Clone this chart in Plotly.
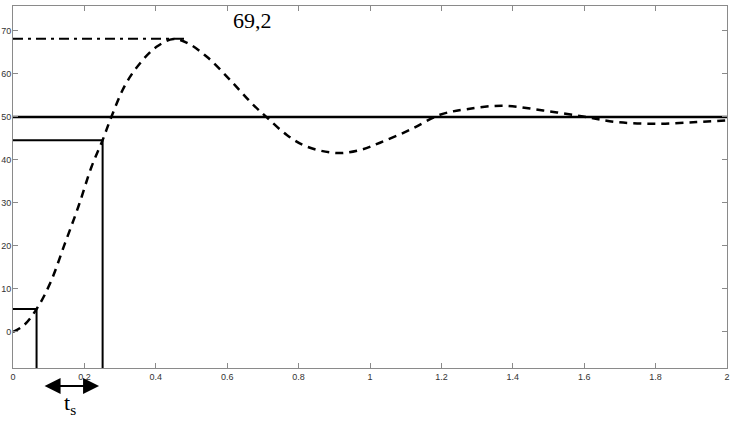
import plotly.graph_objects as go

# step response
t = [0.0, 0.03, 0.066, 0.104, 0.146, 0.183, 0.22, 0.251, 0.276, 0.314, 0.356, 0.402, 0.449,
     0.486, 0.543, 0.608, 0.673, 0.711, 0.767, 0.823, 0.907, 0.972, 1.028, 1.112,
     1.196, 1.271, 1.373, 1.485, 1.597, 1.691, 1.803, 1.915, 2.0]
y = [0.0, 1.5, 5.3, 11.3, 20.7, 29.1, 38.4, 44.6, 50.1, 57.4, 62.5, 66.3, 68.1,
     67.3, 64.0, 58.6, 52.8, 49.9, 45.8, 43.1, 41.6, 42.3, 44.0, 47.0,
     50.5, 51.8, 52.6, 51.5, 50.1, 48.8, 48.4, 48.8, 49.2]

steady = 50
peak = 68.2
peak_t = 0.49
t10, y10 = 0.066, 5.3
t90, y90 = 0.251, 44.6
ymin, ymax = -8.4, 75.8

xticks = [0, 0.2, 0.4, 0.6, 0.8, 1, 1.2, 1.4, 1.6, 1.8, 2]
yticks = [0, 10, 20, 30, 40, 50, 60, 70]

fig = go.Figure()

# 10% and 90% marks
fig.add_trace(go.Scatter(x=[0, t10, t10], y=[y10, y10, ymin], mode="lines",
                         line=dict(color="black", width=2)))
fig.add_trace(go.Scatter(x=[0, t90, t90], y=[y90, y90, ymin], mode="lines",
                         line=dict(color="black", width=2)))
# steady value
fig.add_trace(go.Scatter(x=[0, 2], y=[steady, steady], mode="lines",
                         line=dict(color="black", width=2.5)))
# overshoot level
fig.add_trace(go.Scatter(x=[0, peak_t], y=[peak, peak], mode="lines",
                         line=dict(color="black", width=2, dash="10px,5px,3px,5px")))
# response
fig.add_trace(go.Scatter(x=t, y=y, mode="lines", line_shape="spline",
                         line=dict(color="black", width=2.5, dash="8px,6px")))

fig.add_annotation(x=0.67, xref="x", y=1.0, yref="paper",
                   yanchor="top", text="69,2", showarrow=False,
                   font=dict(family="Liberation Serif", size=22, color="black"))

# t_s arrow under the axis
fig.add_annotation(x=0.241, xref="x", y=-0.05, yref="paper",
                   ax=-56, ay=0, axref="pixel", ayref="pixel",
                   text="", showarrow=True, arrowside="end+start",
                   arrowhead=2, arrowsize=1.6, arrowwidth=2, arrowcolor="black")
fig.add_annotation(x=0.16, xref="x", y=-0.055, yref="paper", yanchor="top",
                   text="t<sub>s</sub>", showarrow=False,
                   font=dict(family="Liberation Serif", size=22, color="black"))

axis = dict(showgrid=False, zeroline=False, showline=True, linecolor="#8a8a8a",
            linewidth=1, mirror="ticks", ticks="inside", ticklen=5, tickcolor="#8a8a8a",
            tickfont=dict(family="Liberation Sans", size=9, color="#333"),
            automargin=False)

fig.update_layout(
    width=731, height=426,
    margin=dict(l=13, r=4, t=6, b=58),
    plot_bgcolor="white", paper_bgcolor="white",
    showlegend=False,
    xaxis=dict(range=[0, 2], tickvals=xticks, ticktext=[str(v) for v in xticks], **axis),
    yaxis=dict(range=[ymin, ymax], tickvals=yticks, ticklabelstandoff=-1, **axis),
)

fig.write_html("out.html", config={"displayModeBar": False},
               post_script="document.body.style.margin='0';document.body.style.overflow='hidden';")
